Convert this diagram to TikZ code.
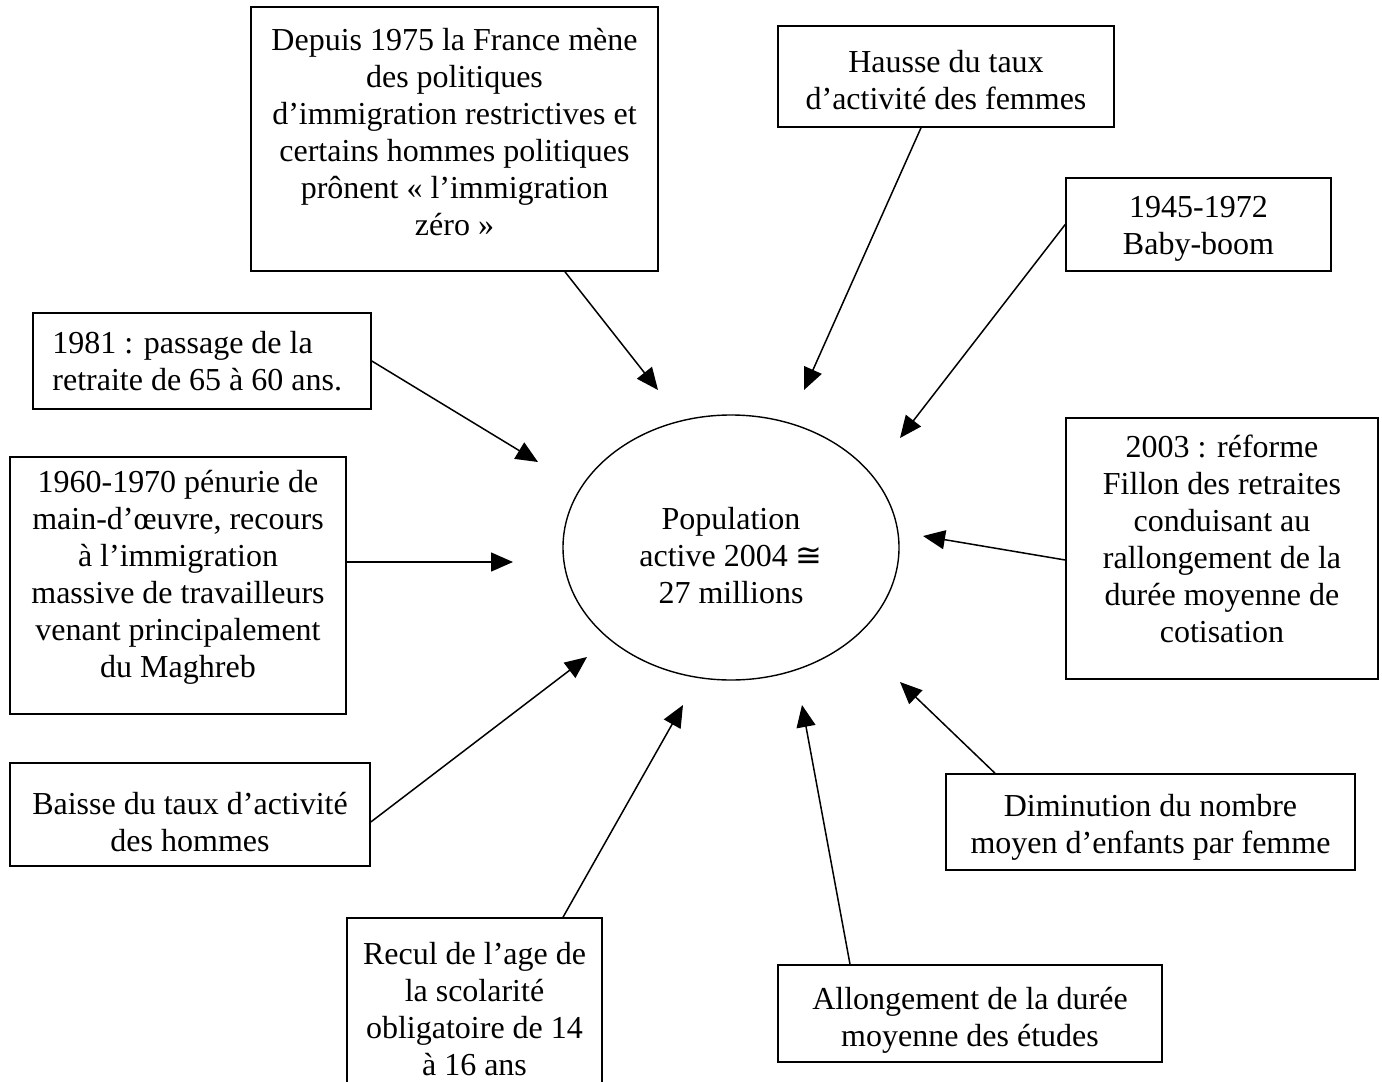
\documentclass[tikz,border=0pt]{standalone}
\usepackage{fontspec}
\setmainfont{Liberation Serif}
\newfontfamily\symfont{DejaVu Sans}
\usetikzlibrary{arrows.meta,shapes.geometric,calc}
\begin{document}
\begin{tikzpicture}[x=1pt,y=-1pt,
  box/.style={draw,line width=1.6pt,rectangle,inner sep=0pt},
  lbl/.style={inner sep=0pt,align=center,font=\fontsize{32}{37}\selectfont},
  conn/.style={line width=1.5pt,-{Triangle[length=22pt,width=19pt]}},
]
\useasboundingbox (0,0) rectangle (1382,1082);
\fill[white] (0,0) rectangle (1382,1082);

% central ellipse
\node[draw,ellipse,line width=1.4pt,minimum width=336pt,minimum height=265pt,inner sep=0pt,
  label={[lbl,yshift=-8.5pt]center:{Population\\active 2004 {\symfont ≅}\\27 millions}}] (ell) at (731,547.5) {};

% boxes
\node[box,minimum width=407pt,minimum height=264pt,
  label={[lbl,yshift=7pt]center:{Depuis 1975 la France mène\\des politiques\\d’immigration restrictives et\\certains hommes politiques\\prônent « l’immigration\\zéro »}}] (top) at (454.5,139) {};
\node[box,minimum width=336pt,minimum height=101pt,
  label={[lbl,yshift=-4pt]center:{Hausse du taux\\d’activité des femmes}}] (hausse) at (946,76.5) {};
\node[box,minimum width=265pt,minimum height=93pt,
  label={[lbl,yshift=-4pt]center:{1945-1972\\Baby-boom}}] (baby) at (1198.5,224.5) {};
\node[box,minimum width=338pt,minimum height=96pt,
  label={[lbl,align=left,anchor=west,xshift=20pt]west:{1981 : passage de la\\retraite de 65 à 60 ans.}}] (r1981) at (202,361) {};
\node[box,minimum width=336pt,minimum height=257pt,
  label={[lbl,yshift=8pt]center:{1960-1970 pénurie de\\main-d’œuvre, recours\\à l’immigration\\massive de travailleurs\\venant principalement\\du Maghreb}}] (p1960) at (178,585.5) {};
\node[box,minimum width=360pt,minimum height=103pt,
  label={[lbl,yshift=-8pt]center:{Baisse du taux d’activité\\des hommes}}] (baisse) at (190,814.5) {};
\node[box,minimum width=255pt,minimum height=182pt,
  label={[lbl]center:{Recul de l’age de\\la scolarité\\obligatoire de 14\\à 16 ans}}] (recul) at (474.5,1009) {};
\node[box,minimum width=384pt,minimum height=97pt,
  label={[lbl,yshift=-7pt]center:{Allongement de la durée\\moyenne des études}}] (allong) at (970,1013.5) {};
\node[box,minimum width=409pt,minimum height=96pt,
  label={[lbl,yshift=-5pt]center:{Diminution du nombre\\moyen d’enfants par femme}}] (dimin) at (1150.5,822) {};
\node[box,minimum width=312pt,minimum height=261pt,
  label={[lbl,yshift=10pt]center:{2003 : réforme\\Fillon des retraites\\conduisant au\\rallongement de la\\durée moyenne de\\cotisation}}] (r2003) at (1222,548.5) {};

% arrow tips
\coordinate (tTop) at (658,390);
\coordinate (tHausse) at (804,390);
\coordinate (tBaby) at (900,438);
\coordinate (t1981) at (538,462);
\coordinate (t1960) at (513,562);
\coordinate (tBaisse) at (587,657);
\coordinate (tRecul) at (683,705);
\coordinate (tAllong) at (802,705);
\coordinate (tDimin) at (900,682);
\coordinate (t2003) at (923,536);

% connectors
\draw[conn] ($(top.south)+(110.5,0)$) -- (tTop);
\draw[conn] ($(hausse.south)+(-25,0)$) -- (tHausse);
\draw[conn] (baby.west) -- (tBaby);
\draw[conn] (r1981.east) -- (t1981);
\draw[conn] ($(p1960.east)+(0,-23.5)$) -- (t1960);
\draw[conn] ($(baisse.east)+(0,7.5)$) -- (tBaisse);
\draw[conn] ($(recul.north)+(88.5,0)$) -- (tRecul);
\draw[conn] ($(allong.north)+(-120,0)$) -- (tAllong);
\draw[conn] ($(dimin.north)+(-155.5,0)$) -- (tDimin);
\draw[conn] ($(r2003.west)+(0,11.5)$) -- (t2003);
\end{tikzpicture}
\end{document}
